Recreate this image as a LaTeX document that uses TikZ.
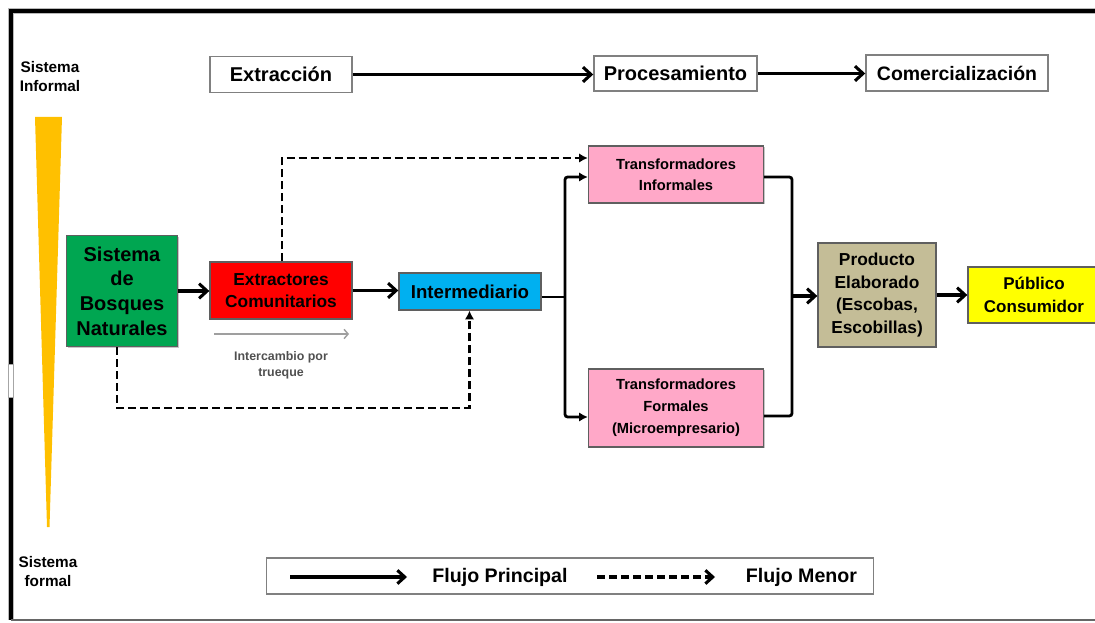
\documentclass[tikz,border=0pt]{standalone}
\usepackage{fontspec}
\setmainfont{Liberation Sans}
\usetikzlibrary{arrows.meta,shadows}

\definecolor{cgreen}{RGB}{0,166,81}
\definecolor{cred}{RGB}{255,0,0}
\definecolor{cblue}{RGB}{0,176,240}
\definecolor{cpink}{RGB}{255,168,200}
\definecolor{ctan}{RGB}{196,189,151}
\definecolor{cyellow}{RGB}{255,255,0}
\definecolor{cwedge}{RGB}{255,192,0}
\definecolor{borderg}{RGB}{95,95,95}
\definecolor{titleg}{RGB}{128,128,128}
\definecolor{tgray}{RGB}{80,80,80}

% bold text at a given size and line spacing
\newcommand\boxfont[2]{\fontsize{#1}{#2}\selectfont\bfseries}

\begin{document}
\begin{tikzpicture}[x=0.75pt,y=-0.75pt,
  sz/.style 2 args={minimum width={#1*0.75pt},minimum height={#2*0.75pt}},
  basebox/.style={rectangle,inner sep=0pt,align=center},
  titlebox/.style={basebox,draw=titleg,line width=1.1pt,fill=white,font=\boxfont{15}{18}},
  cbox/.style={basebox,draw=borderg,line width=1pt,
    drop shadow={shadow xshift=1.1pt,shadow yshift=-1.1pt,fill=black,opacity=0.22}},
  label/.style={inner sep=0pt,align=center},
  main/.style={line width=2.3pt,-{Straight Barb[length=6pt,width=11pt]}},
  tree/.style={line width=2.1pt,rounded corners=2pt},
  minor/.style={line width=2.1pt,dash pattern=on 6pt off 3pt,-{Latex[length=6.5pt,width=7pt]}},
  barter/.style={line width=1.1pt,draw=gray!75,-{Straight Barb[length=3pt,width=7pt]}},
]
\clip (0,0) rectangle (1095,623);

% outer frame (open on the right)
\draw[gray!55,line width=4.5pt] (1100,11) -- (11,11) -- (11,620);
\draw[black,line width=2.8pt] (1100,11) -- (11,11) -- (11,620);
\draw[gray!80!black,line width=2pt] (11,620) -- (1100,620);
\fill[white,draw=gray!70,line width=0.5pt] (8.5,364) rectangle (13.5,397);

% informal-to-formal wedge
\fill[cwedge] (35,117) -- (62,117) -- (49.5,527) -- (47,527) -- cycle;
\node[label,font=\boxfont{11.5}{14.25}] (sinf) at (50,77) {Sistema\\Informal};
\node[label,font=\boxfont{11.5}{14.25}] (sfor) at (48,572) {Sistema\\formal};

% stage headings
\node[titlebox,sz={142}{36}] (extr) at (281,74.5) {Extracción};
\node[titlebox,sz={163}{35}] (proc) at (675.5,73.5) {Procesamiento};
\node[titlebox,sz={182}{36},font=\boxfont{14.6}{18}] (comer) at (957,73) {Comercialización};
\draw[main] (extr.east) -- (extr.east -| proc.west);
\draw[main] (proc.east) -- (proc.east -| comer.west);

% chain actors
\node[cbox,fill=cgreen,sz={111}{111},font=\boxfont{15}{18.5}] (bosq) at (122,291) {Sistema\\de\\Bosques\\Naturales};
\node[cbox,fill=cred,sz={142}{57},font=\boxfont{13}{16.5}] (extrC) at (281,290.5) {Extractores\\Comunitarios};
\node[cbox,fill=cblue,sz={142}{37},font=\boxfont{14}{17}] (inter) at (470,291.5) {Intermediario};
\node[cbox,fill=cpink,sz={175}{57},font=\boxfont{11}{15.5}] (tinf) at (676,174.5) {Transformadores\\Informales};
\node[cbox,fill=cpink,sz={175}{78},font=\boxfont{11}{16.5}] (tform) at (676,408) {Transformadores\\Formales\\(Microempresario)};
\node[cbox,fill=ctan,sz={118}{104},font=\boxfont{13}{17}] (prod) at (877,295) {Producto\\Elaborado\\(Escobas,\\Escobillas)};
\node[cbox,fill=cyellow,sz={132}{56},font=\boxfont{12.75}{17.2}] (pub) at (1034,295) {Público\\Consumidor};

% main flow
\draw[main] (bosq.east) -- (bosq.east -| extrC.west);
\draw[main] (extrC.east) -- (extrC.east -| inter.west);

% split towards the transformers
\coordinate (jL) at (565,297);
\coordinate (jT) at (565,177);
\coordinate (jB) at (565,417);
\draw[tree] (inter.east |- jL) -- (jL);
\draw[tree,{Latex[length=6.5pt,width=7pt]}-{Latex[length=6.5pt,width=7pt]}]
  (jT -| tinf.west) -- (jT) -- (jB) -- (jB -| tform.west);

% merge towards the product
\coordinate (rT) at (792,177);
\coordinate (rB) at (792,416);
\coordinate (rM) at (792,296);
\draw[tree] (rT -| tinf.east) -- (rT) -- (rB) -- (rB -| tform.east);
\draw[main] (rM) -- (rM -| prod.west);
\draw[main] (prod.east) -- (prod.east -| pub.west);

% minor flows
\coordinate (dB) at (117,408);
\coordinate (dI) at (469.5,408);
\draw[minor] (dB |- bosq.south) -- (dB) -- (dI) -- (dI |- inter.south);
\coordinate (dE) at (282,158);
\draw[minor] (dE |- extrC.north) -- (dE) -- (dE -| tinf.west);

% barter note
\coordinate (b1) at (214,334);
\coordinate (b2) at (349,334);
\draw[barter] (b1) -- (b2);
\node[label,font=\boxfont{9.3}{12},text=tgray] (trueque) at (281,365) {Intercambio por\\trueque};

% legend
\node[titlebox,sz={607}{36}] (legend) at (570,576) {};
\coordinate (ls1) at (290,577);
\coordinate (ls2) at (407,577);
\coordinate (ld1) at (597,577);
\coordinate (ld2) at (715,577);
\draw[line width=2.3pt,-{Straight Barb[length=5.5pt,width=10pt]}] (ls1) -- (ls2);
\draw[line width=2.3pt,dash pattern=on 6pt off 3pt,-{Straight Barb[length=5.5pt,width=10pt]}] (ld1) -- (ld2);
\node[label,font=\boxfont{14.7}{17}] (lp) at (500,577) {Flujo Principal};
\node[label,font=\boxfont{14.7}{17}] (lm) at (801.5,577) {Flujo Menor};
\end{tikzpicture}
\end{document}
